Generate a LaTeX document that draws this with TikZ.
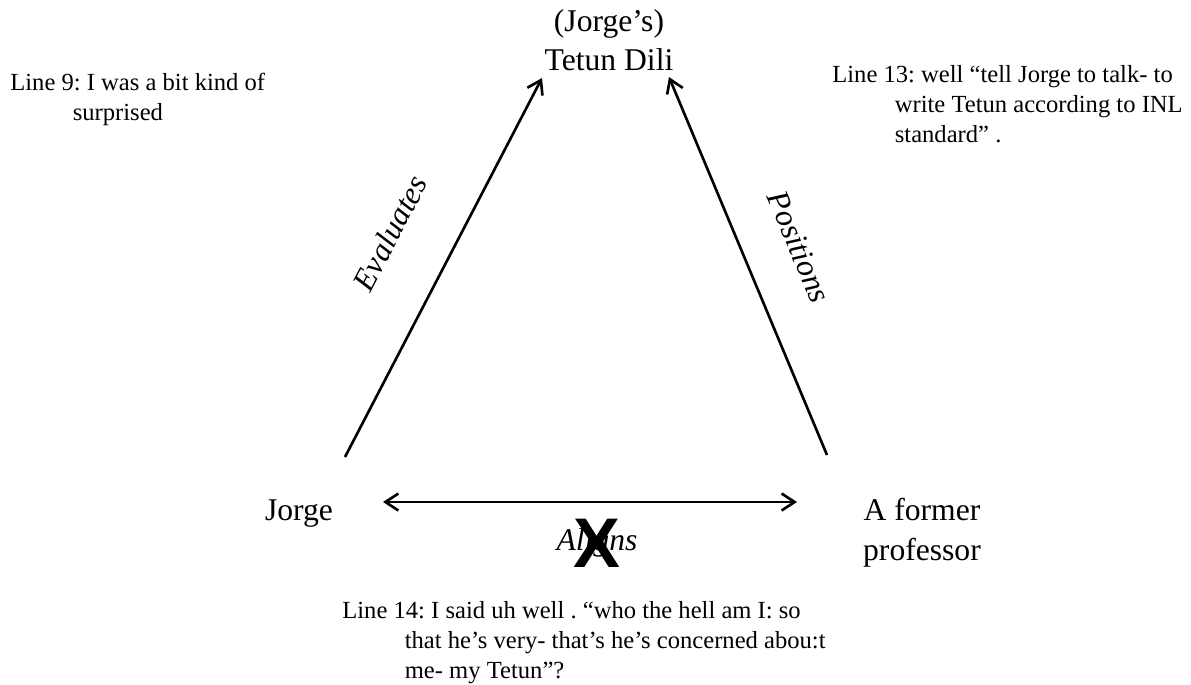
\documentclass[tikz,border=0pt]{standalone}
\usepackage{fontspec}
\setmainfont{Liberation Serif}
\newfontfamily\crossfont{Liberation Sans}
\usetikzlibrary{positioning, arrows.meta}
\newcommand{\quoteindent}{\hspace*{1.25cm}}
\frenchspacing

\begin{document}
\begin{tikzpicture}[
  x=0.02cm, y=-0.02cm,
  >={Straight Barb[length=2.6mm, width=3.4mm]},
  term/.style={inner sep=0pt, align=center, font=\fontsize{18}{22.5}\selectfont},
  relation/.style={inner sep=0pt, font=\fontsize{18}{22}\selectfont\itshape},
  quote/.style={inner sep=0pt, align=left, anchor=north west, font=\fontsize{14}{17}\selectfont},
  cross/.style={inner sep=0pt, font=\crossfont\bfseries\fontsize{40}{40}\selectfont},
  arrow/.style={->, line width=1.5pt},
  twoway/.style={<->, line width=1.5pt}
]
  \useasboundingbox (0,0) rectangle (1191,684);

  \node[term, anchor=north] (tetun) at (609,9) {(Jorge’s)\\Tetun Dili};
  \node[term, anchor=base]  (jorge) at (299,520) {Jorge};
  \node[term, anchor=north] (prof)  at (922,498) {A former\\professor};

  \coordinate (jorge-top)  at (345,457);
  \coordinate (jorge-side) at (383,502);
  \coordinate (prof-top)   at (827,455);
  \coordinate (prof-side)  at (797,502);
  \coordinate (tetun-left)  at (542,78);
  \coordinate (tetun-right) at (669,77);

  \draw[arrow]  (jorge-top) -- (tetun-left);
  \draw[arrow]  (prof-top)  -- (tetun-right);
  \draw[twoway] (jorge-side) -- (prof-side);

  \node[relation, rotate=62.5]  (evaluates) at (390,233) {Evaluates};
  \node[relation, rotate=-67.3] (positions) at (799,247) {Positions};
  \node[relation, anchor=base]  (aligns)    at (597,550) {Aligns};
  \node[cross] (crossout) at (597,543) {X};

  \node[quote] (line9)  at (10,73)  {Line 9: I was a bit kind of\\\quoteindent surprised};
  \node[quote] (line13) at (832,65) {Line 13: well “tell Jorge to talk- to\\\quoteindent write Tetun according to INL\\\quoteindent standard” .};
  \node[quote] (line14) at (342,601) {Line 14: I said uh well . “who the hell am I: so\\\quoteindent that he’s very- that’s he’s concerned abou:t\\\quoteindent me- my Tetun”?};
\end{tikzpicture}
\end{document}
